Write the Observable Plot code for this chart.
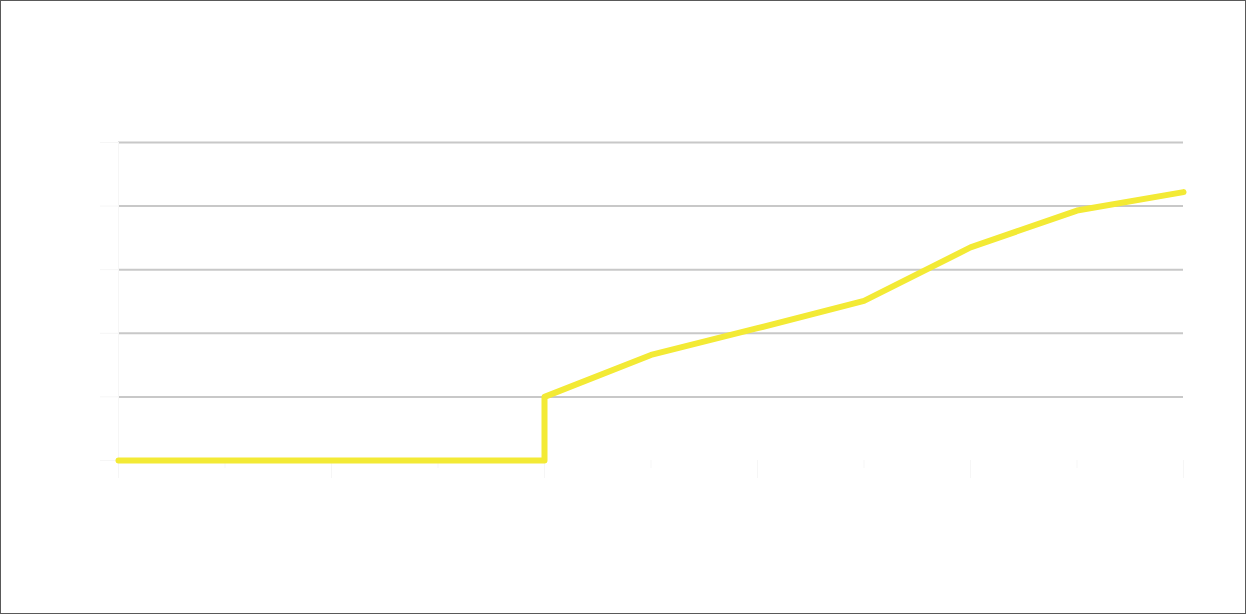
<!DOCTYPE html>
<html>
<head>
<meta charset="utf-8">
<script src="https://cdn.jsdelivr.net/npm/d3@7"></script>
<script src="https://cdn.jsdelivr.net/npm/@observablehq/plot@0.6"></script>
<style>
  html, body { margin: 0; padding: 0; background: #ffffff; }
  #wrap { position: relative; width: 1244px; height: 612px; border: 1px solid #595959; background: #ffffff; overflow: hidden; font-family: "Liberation Sans", Arial, sans-serif; }
  #header { position: relative; height: 109px; }
  #tleft { position: absolute; left: 118px; top: 58px; font-size: 36px; font-weight: bold; color: #ffffff; letter-spacing: 1px; white-space: nowrap; }
  #tright { position: absolute; right: 62px; top: 44px; font-family: "Liberation Sans Narrow", "DejaVu Sans Condensed", sans-serif; font-size: 54px; font-weight: bold; color: #ffffff; white-space: nowrap; }
  #xlabel { position: absolute; left: 118px; width: 1065px; top: 528px; text-align: center; font-size: 29px; font-weight: bold; color: #ffffff; }
</style>
</head>
<body>
<div id="wrap">
  <div id="header"><div id="tleft"></div><div id="tright"></div></div>
  <div id="chart"></div>
  <div id="xlabel"></div>
</div>
<script>
const titleLeft = "dB @ 25°C AMBIENT";
const titleRight = "SF1000L FAN NOISE";
const xAxisLabel = "POWER OUTPUT (W)";
const powerW = [0, 100, 200, 300, 400, 400, 500, 600, 700, 800, 900, 1000];
const noiseDb = [0, 0, 0, 0, 0, 10, 16.6, 20.8, 25.1, 33.5, 39.3, 42.2];
const xTicks = [0, 200, 400, 600, 800, 1000];
const xMinorTicks = [100, 300, 500, 700, 900];
const yTicks = [0, 10, 20, 30, 40, 50];
const gridLines = [10, 20, 30, 40, 50];

document.getElementById("tleft").textContent = titleLeft;
document.getElementById("tright").textContent = titleRight;
document.getElementById("xlabel").textContent = xAxisLabel;

const data = powerW.map((x, i) => ({x, y: noiseDb[i]}));

const chart = Plot.plot({
  width: 1244,
  height: 503,
  marginTop: 32,
  marginBottom: 153,
  marginLeft: 117,
  marginRight: 62,
  style: {background: "transparent", fontFamily: "Liberation Sans, Arial, sans-serif", fontSize: "22px", color: "#ffffff"},
  x: {type: "linear", domain: [0, 1000]},
  y: {type: "linear", domain: [0, 50]},
  marks: [
    Plot.ruleY(gridLines, {stroke: "#c8c8c8", strokeWidth: 2}),
    Plot.ruleX([0], {stroke: "#f6f6f6", strokeWidth: 1, y1: 0, y2: 50}),
    Plot.axisX(xMinorTicks, {tickSize: 8, text: null, stroke: "#f7f7f7", label: null}),
    Plot.axisX(xTicks, {tickSize: 18, tickPadding: 12, stroke: "#f6f6f6", fill: "#ffffff", fontSize: 22, label: null}),
    Plot.axisY(yTicks, {tickSize: 18, tickPadding: 14, stroke: "#f6f6f6", fill: "#ffffff", fontSize: 22, label: null}),
    Plot.line(data, {x: "x", y: "y", stroke: "#f3ea35", strokeWidth: 6, strokeLinejoin: "round", strokeLinecap: "round"})
  ]
});
document.getElementById("chart").appendChild(chart);
</script>
</body>
</html>
